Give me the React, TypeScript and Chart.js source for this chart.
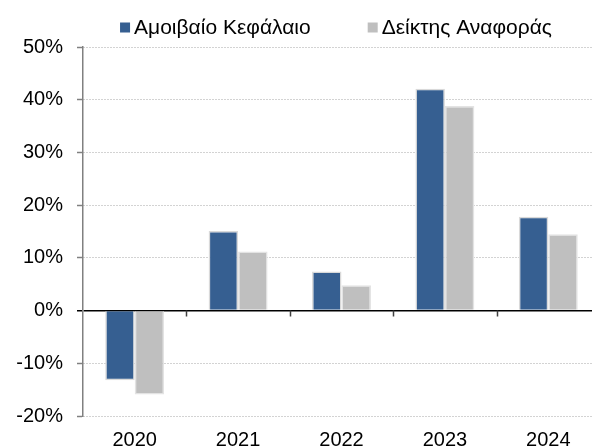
import { useEffect, useRef } from "react";
import { Chart, registerables } from "chart.js";

Chart.register(...registerables);

const categories = ["2020", "2021", "2022", "2023", "2024"];
const fundValues = [-13.2, 15.1, 7.4, 42.1, 17.8];
const benchmarkValues = [-15.9, 11.2, 4.8, 38.8, 14.5];
const seriesNames = ["Αμοιβαίο Κεφάλαιο", "Δείκτης Αναφοράς"];
const yTickValues = [-20, -10, 0, 10, 20, 30, 40, 50];

const FONT = '"Liberation Sans", Arial, sans-serif';
const FONT_SIZE = 20;
const LEGEND_FONT_SIZE = 21;
const BLUE = "#365F91";
const GRAY = "#BFBFBF";
const CANVAS_W = 660;
const CANVAS_H = 460;

const legendPlugin = {
  id: "customLegend",
  afterDraw(chart: any) {
    const ctx = chart.ctx;
    ctx.save();
    ctx.font = `${LEGEND_FONT_SIZE}px ${FONT}`;
    ctx.textBaseline = "middle";
    ctx.textAlign = "left";
    const colors = [BLUE, GRAY];
    const box = 10;
    const gapText = 4;
    const gapItems = 57;
    const widths = seriesNames.map((n) => ctx.measureText(n).width);
    const total = widths.reduce((a, w) => a + box + gapText + w, 0) + gapItems * (seriesNames.length - 1);
    let x = 336 - total / 2;
    const cy = 27.5;
    seriesNames.forEach((name, i) => {
      ctx.fillStyle = colors[i];
      ctx.fillRect(x, cy - box / 2, box, box);
      x += box + gapText;
      ctx.fillStyle = "#000";
      ctx.fillText(name, x, cy + 1);
      x += widths[i] + gapItems;
    });
    ctx.restore();
  },
};

const zeroTicksPlugin = {
  id: "zeroTicks",
  afterDraw(chart: any) {
    const { ctx, scales } = chart;
    const xs = scales.x;
    const ys = scales.y;
    const y0 = ys.getPixelForValue(0);
    const n = categories.length;
    const step = xs.width / n;
    ctx.save();
    ctx.strokeStyle = "#404040";
    ctx.lineWidth = 1.5;
    ctx.beginPath();
    for (let i = 1; i < n; i++) {
      const x = Math.round(xs.left + i * step) + 0.5;
      ctx.moveTo(x, y0);
      ctx.lineTo(x, y0 + 6);
    }
    ctx.stroke();
    ctx.restore();
  },
};

export default function App() {
  const ref = useRef<HTMLCanvasElement>(null);

  useEffect(() => {
    if (!ref.current) return;
    const chart = new Chart(ref.current, {
      type: "bar",
      data: {
        labels: categories,
        datasets: [
          {
            label: seriesNames[0],
            data: fundValues,
            backgroundColor: BLUE,
            borderColor: "#D9D9D9",
            borderWidth: 1.5,
          },
          {
            label: seriesNames[1],
            data: benchmarkValues,
            backgroundColor: GRAY,
            borderColor: "#E3E3E3",
            borderWidth: 1.5,
          },
        ],
      },
      options: {
        responsive: false,
        animation: false,
        layout: { padding: { top: 47, left: 0, right: 60, bottom: 0 } },
        datasets: { bar: { categoryPercentage: 0.57, barPercentage: 1.0 } },
        plugins: { legend: { display: false }, tooltip: { enabled: false } },
        scales: {
          x: {
            grid: { display: false, drawTicks: false },
            border: { display: false },
            ticks: { color: "#000", font: { family: FONT, size: FONT_SIZE }, padding: 12 },
            afterFit: (s: any) => {
              s.height = CANVAS_H - 416;
            },
          },
          y: {
            min: yTickValues[0],
            max: yTickValues[yTickValues.length - 1],
            afterBuildTicks: (s: any) => {
              s.ticks = yTickValues.map((v) => ({ value: v }));
            },
            grid: {
              color: (c: any) => (c.tick && c.tick.value === 0 ? "#000" : "#A6A6A6"),
              lineWidth: (c: any) => (c.tick && c.tick.value === 0 ? 1.5 : 1),
              tickColor: (c: any) => (c.tick && c.tick.value === 0 ? "#000" : "#808080"),
              tickLength: 6,
              tickWidth: 1.5,
            },
            border: {
              display: true,
              color: "#808080",
              width: 1.5,
              dash: (c: any) => (c.tick && c.tick.value === 0 ? [] : [1, 2]),
            },
            ticks: {
              color: "#000",
              font: { family: FONT, size: FONT_SIZE },
              padding: 14,
              callback: (v: any) => `${v}%`,
            },
            afterFit: (s: any) => {
              s.width = 83;
            },
          },
        },
      },
      plugins: [legendPlugin, zeroTicksPlugin],
    });
    return () => chart.destroy();
  }, []);

  return (
    <div style={{ position: "fixed", left: 0, top: 0, width: 592, height: 448, overflow: "hidden", background: "#fff" }}>
      <canvas ref={ref} width={CANVAS_W} height={CANVAS_H} style={{ display: "block" }} />
    </div>
  );
}
